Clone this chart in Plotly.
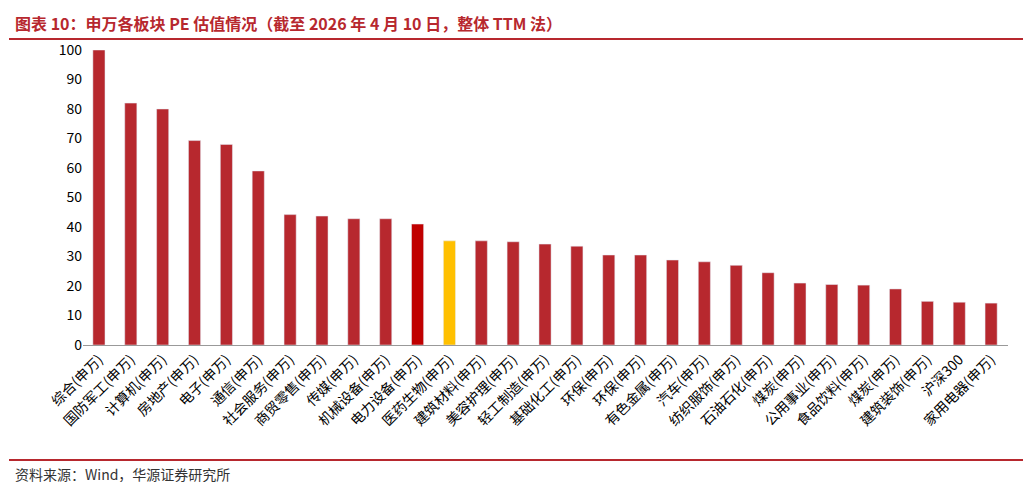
import plotly.graph_objects as go

labels = ["综合", "国防军工", "计算机", "房地产", "电子", "通信", "社会服务", "商贸零售",
          "传媒", "机械设备", "电力设备", "医药生物", "建筑材料", "美容护理", "轻工制造",
          "基础化工", "环保", "环保", "有色金属", "汽车", "纺织服饰", "石油石化", "煤炭",
          "公用事业", "食品饮料", "煤炭", "建筑装饰", "沪深300", "家用电器"]
pe = [100, 82, 80, 69.3, 68, 59, 44.2, 43.7, 42.8, 42.8, 41, 35.3, 35.3, 35, 34.2,
      33.5, 30.5, 30.5, 28.8, 28.2, 27, 24.5, 21, 20.5, 20.3, 19, 14.8, 14.5, 14.2]

ticks = [l if l == "沪深300" else l + "(申万)" for l in labels]
colors = ["#B7282E"] * len(pe)
colors[labels.index("电力设备")] = "#C00000"
colors[labels.index("医药生物")] = "#FFC000"
x = list(range(len(pe)))

fig = go.Figure(go.Bar(x=x, y=pe, marker_color=colors, width=0.38))
fig.update_layout(
    width=1031, height=482, margin=dict(l=75, r=31, t=42, b=145),
    plot_bgcolor="white", paper_bgcolor="white", showlegend=False,
    font=dict(family="Noto Sans CJK SC", size=14, color="#000"),
)
fig.update_xaxes(tickmode="array", tickvals=x, ticktext=ticks, tickangle=-45,
                 range=[-0.5, len(pe) - 0.47], showline=True, linecolor="#999",
                 ticks="", tickfont=dict(size=14))
fig.update_yaxes(range=[0, 100], dtick=10, showgrid=False, ticks="", tickfont=dict(size=14))
fig.add_annotation(text="<b>图表 10：申万各板块 PE 估值情况（截至 2026 年 4 月 10 日，整体 TTM 法）</b>",
                   xref="paper", yref="paper", x=-0.076, y=1.09, xanchor="left", yanchor="middle",
                   showarrow=False, font=dict(size=16, color="#B7282E"))
fig.add_shape(type="line", xref="paper", yref="paper", x0=-0.08, x1=1.033, y0=1.037, y1=1.037,
              line=dict(color="#B7282E", width=2))
fig.add_shape(type="line", xref="paper", yref="paper", x0=-0.08, x1=1.033, y0=-0.39, y1=-0.39,
              line=dict(color="#B7282E", width=2))
fig.add_annotation(text="资料来源：Wind，华源证券研究所", xref="paper", yref="paper",
                   x=-0.076, y=-0.437, xanchor="left", yanchor="middle", showarrow=False,
                   font=dict(size=14, color="#333"))
fig.write_html("out.html")
